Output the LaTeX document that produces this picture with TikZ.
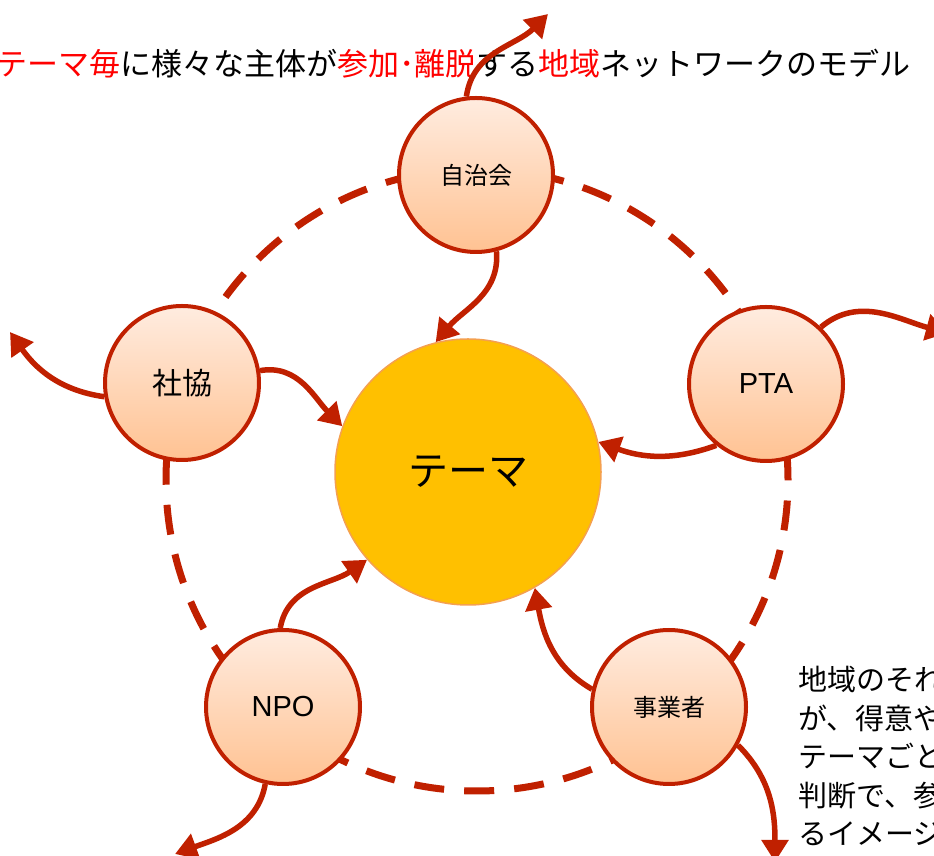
\documentclass[tikz,border=0pt]{standalone}
\usepackage{fontspec}
\setmainfont{Noto Sans CJK JP}
\newfontfamily\latinfont{Liberation Sans}
\usetikzlibrary{arrows.meta}
\definecolor{dred}{RGB}{192,32,0}
\definecolor{tred}{RGB}{255,0,0}
\definecolor{gold}{RGB}{255,192,0}
\definecolor{goldedge}{RGB}{244,160,80}
\definecolor{peachtop}{RGB}{255,236,224}
\definecolor{peachbot}{RGB}{255,194,146}
\begin{document}
\begin{tikzpicture}[x=1pt,y=1pt,
  actor/.style={circle, minimum size=154pt, inner sep=0pt, draw=dred, line width=4pt,
    top color=peachtop, bottom color=peachbot},
  flow/.style={draw=dred, line width=5.5pt, -{Triangle[length=22pt,width=26pt]}},
  ring/.style={draw=dred, line width=7pt, dash pattern=on 30pt off 20.1pt},
  theme/.style={circle, minimum size=266pt, inner sep=0pt, fill=gold, draw=goldedge, line width=1.5pt},
  ttl/.style={anchor=base west, inner sep=0pt, font=\fontsize{31}{36}\selectfont},
  note/.style={anchor=base west, inner sep=0pt, font=\fontsize{29}{34}\selectfont}
]
\useasboundingbox (0,0) rectangle (934,856);
\clip (0,0) rectangle (934,856);

% dashed ring
\coordinate (rc) at (477,376);
\draw[ring] (rc) circle[radius=311];

% title
\node[ttl] (title) at (-4,780) {\textcolor{tred}{テーマ毎}に様々な主体が\textcolor{tred}{参加･離脱}する\textcolor{tred}{地域}ネットワークのモデル};

% nodes
\node[theme] (theme) at (468,384) {\fontsize{40}{48}\selectfont テーマ};
\node[actor] (jichi) at (476,681) {\fontsize{24}{28}\selectfont 自治会};
\node[actor] (pta) at (766,472) {\latinfont\fontsize{29}{34}\selectfont PTA};
\node[actor] (shakyo) at (182,473) {\fontsize{30}{34}\selectfont 社協};
\node[actor] (npo) at (283,149) {\latinfont\fontsize{29}{34}\selectfont NPO};
\node[actor] (jigyo) at (669,149) {\fontsize{24}{28}\selectfont 事業者};

% free ends
\coordinate (o1) at (548,842);
\coordinate (o3) at (948,523);
\coordinate (o5) at (10,524);
\coordinate (o8) at (175,2);
\coordinate (o10) at (775,-6);

% arrows
\draw[flow] (jichi.97) to[out=82,in=225] (o1);
\draw[flow] (jichi.-75) to[out=-85,in=50] (theme.104);
\draw[flow] (pta.46) to[out=40,in=165] (o3);
\draw[flow] (pta.-129) to[out=200,in=-20] (theme.13);
\draw[flow] (shakyo.190) to[out=172,in=-55] (o5);
\draw[flow] (shakyo.9.5) to[out=10,in=135] (theme.160);
\draw[flow] (npo.92) to[out=80,in=215] (theme.221.5);
\draw[flow] (npo.-103) to[out=-100,in=20] (o8);
\draw[flow] (jigyo.167.5) to[out=150,in=-80] (theme.-60.7);
\draw[flow] (jigyo.-29) to[out=-45,in=90] (o10);

% note text
\node[note] (t1) at (798,165) {地域のそれ};
\node[note] (t2) at (798,126.5) {が、得意や};
\node[note] (t3) at (798,88) {テーマごと};
\node[note] (t4) at (798,49.5) {判断で、参};
\node[note] (t5) at (798,11) {るイメージ};
\end{tikzpicture}
\end{document}
